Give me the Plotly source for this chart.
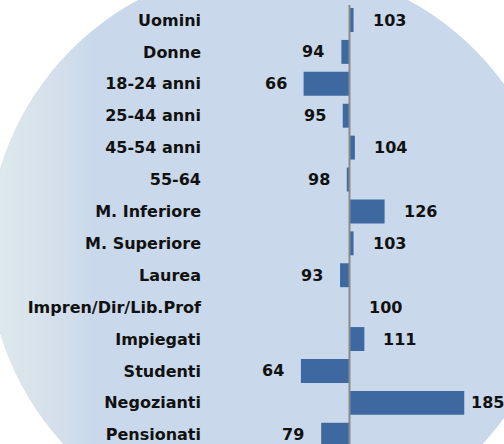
import math
import plotly.graph_objects as go

categories = ["Uomini", "Donne", "18-24 anni", "25-44 anni", "45-54 anni", "55-64",
              "M. Inferiore", "M. Superiore", "Laurea", "Impren/Dir/Lib.Prof",
              "Impiegati", "Studenti", "Negozianti", "Pensionati"]
values = [103, 94, 66, 95, 104, 98, 126, 103, 93, 100, 111, 64, 185, 79]
baseline = 100

W, H = 504, 444
BAR_COLOR = "#3D69A0"
CIRCLE_COLOR = "#C9D9EB"
TEXT_COLOR = "#111111"

PLOT_LEFT = 202
x_domain_start = PLOT_LEFT / W
x_range = [100 - (349.5 - PLOT_LEFT) / 1.35, 100 + (W - 349.5) / 1.35]
px_per_unit = (W - PLOT_LEFT) / (x_range[1] - x_range[0])

fig = go.Figure()
fig.add_trace(go.Bar(
    y=categories,
    x=[v - baseline for v in values],
    base=baseline,
    orientation="h",
    marker=dict(color=BAR_COLOR, line=dict(width=0)),
    width=0.75,
    hoverinfo="skip",
))

value_font = dict(family="DejaVu Sans", size=16, color=TEXT_COLOR, weight="bold")
annotations = []
for c, v in zip(categories, values):
    if v < baseline:
        annotations.append(dict(x=v, y=c, xref="x", yref="y", text=str(v),
                                xanchor="right", xshift=-15, showarrow=False,
                                font=value_font))
    else:
        end_px = PLOT_LEFT + (v - x_range[0]) * px_per_unit
        shift = 17 if end_px + 17 + 36 <= W else 5
        annotations.append(dict(x=v, y=c, xref="x", yref="y", text=str(v),
                                xanchor="left", xshift=shift, showarrow=False,
                                font=value_font))

# background circle (pixel geometry converted to paper coordinates)
CX, CY, R = 273, 251, 285


def to_paper(px, py):
    return px / W, 1 - py / H


shapes = [
    dict(type="circle", xref="paper", yref="paper",
         x0=(CX - R) / W, x1=(CX + R) / W,
         y0=1 - (CY + R) / H, y1=1 - (CY - R) / H,
         fillcolor=CIRCLE_COLOR, line=dict(width=0), layer="below"),
]

# soft light gradient on the left side of the circle
for k in range(6, 96, 6):
    half = math.sqrt(R ** 2 - (CX - k) ** 2)
    a0 = math.atan2(-half, k - CX)
    a1 = math.atan2(half, k - CX)
    if a0 < 0:
        a0 += 2 * math.pi
    pts = []
    n = 40
    for i in range(n + 1):
        a = a1 + (a0 - a1) * i / n
        px = CX + R * math.cos(a)
        py = CY + R * math.sin(a)
        pts.append(to_paper(px, py))
    path = "M " + " L ".join(f"{x:.5f},{y:.5f}" for x, y in pts) + " Z"
    shapes.append(dict(type="path", xref="paper", yref="paper", path=path,
                       fillcolor="rgba(255,255,255,0.045)", line=dict(width=0),
                       layer="below"))

shapes.append(dict(type="line", xref="x", yref="paper", x0=baseline, x1=baseline,
                   y0=0, y1=1 - 5 / H, line=dict(color="#8A8A8A", width=2),
                   layer="above"))

fig.update_layout(
    width=W, height=H,
    margin=dict(l=0, r=0, t=0, b=0),
    paper_bgcolor="white",
    plot_bgcolor="rgba(0,0,0,0)",
    showlegend=False,
    shapes=shapes,
    annotations=annotations,
    xaxis=dict(domain=[x_domain_start, 1], range=x_range, showgrid=False,
               zeroline=False, showticklabels=False, showline=False, fixedrange=True),
    yaxis=dict(range=[13.29, -0.627], showgrid=False, zeroline=False, showline=False,
               ticks="", tickfont=dict(family="DejaVu Sans", size=16, color=TEXT_COLOR, weight="bold"),
               fixedrange=True, automargin=False),
)

fig.write_html("out.html", config={"displayModeBar": False},
               post_script="document.body.style.margin='0';document.body.style.overflow='hidden';")
